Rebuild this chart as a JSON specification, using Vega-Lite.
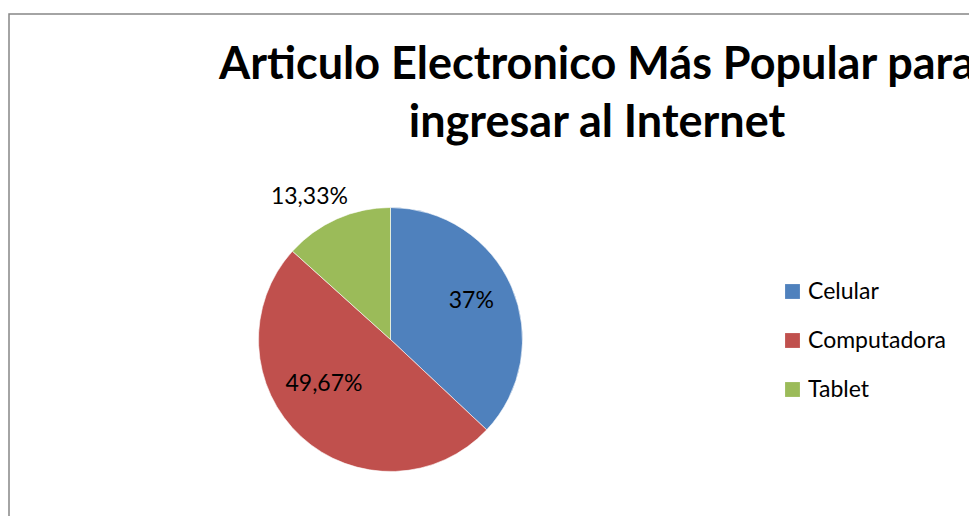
{
  "$schema": "https://vega.github.io/schema/vega-lite/v6.json",
  "autosize": {"type": "none"},
  "padding": {"left": 9, "top": 14, "right": -4, "bottom": -4},
  "width": 964,
  "height": 506,
  "background": "white",
  "title": {
    "text": ["Articulo Electronico Más Popular para", "ingresar al Internet"],
    "font": "Lato",
    "fontSize": 45,
    "fontWeight": "bold",
    "color": "#000000",
    "anchor": "middle",
    "baseline": "top",
    "lineHeight": 58,
    "dx": 106,
    "offset": -132
  },
  "data": {
    "values": [
      {"articulo": "Celular", "porcentaje": 37, "etiqueta": "37%", "orden": 1},
      {"articulo": "Computadora", "porcentaje": 49.67, "etiqueta": "49,67%", "orden": 2},
      {"articulo": "Tablet", "porcentaje": 13.33, "etiqueta": "13,33%", "orden": 3}
    ]
  },
  "encoding": {
    "theta": {"field": "porcentaje", "type": "quantitative", "stack": true},
    "order": {"field": "orden", "type": "quantitative"},
    "x": {"value": 381.5},
    "y": {"value": 325.5}
  },
  "layer": [
    {
      "mark": {"type": "arc", "outerRadius": 132, "stroke": "white", "strokeWidth": 0.6},
      "encoding": {
        "color": {
          "field": "articulo",
          "type": "nominal",
          "scale": {
            "domain": ["Celular", "Computadora", "Tablet"],
            "range": ["#4f81bd", "#c0504d", "#9bbb59"]
          },
          "legend": {
            "title": null,
            "orient": "none",
            "legendX": 772,
            "legendY": 266,
            "symbolType": "square",
            "symbolSize": 220,
            "symbolStrokeWidth": 0,
            "labelFont": "Lato",
            "labelFontSize": 23,
            "labelColor": "#000000",
            "labelOffset": 4,
            "rowPadding": 25
          }
        }
      }
    },
    {
      "mark": {"type": "text", "radius": 88, "dy": -4, "font": "Lato", "fontSize": 23, "color": "#000000"},
      "encoding": {
        "text": {"condition": {"test": "datum.articulo == 'Celular'", "field": "etiqueta"}, "value": ""}
      }
    },
    {
      "mark": {"type": "text", "radius": 85, "dx": -9, "dy": -18, "font": "Lato", "fontSize": 23, "color": "#000000"},
      "encoding": {
        "text": {"condition": {"test": "datum.articulo == 'Computadora'", "field": "etiqueta"}, "value": ""}
      }
    },
    {
      "mark": {"type": "text", "radius": 165, "dx": -14, "dy": 8, "font": "Lato", "fontSize": 23, "color": "#000000"},
      "encoding": {
        "text": {"condition": {"test": "datum.articulo == 'Tablet'", "field": "etiqueta"}, "value": ""}
      }
    }
  ],
  "config": {
    "view": {"stroke": "#868686", "strokeWidth": 1.5}
  }
}
